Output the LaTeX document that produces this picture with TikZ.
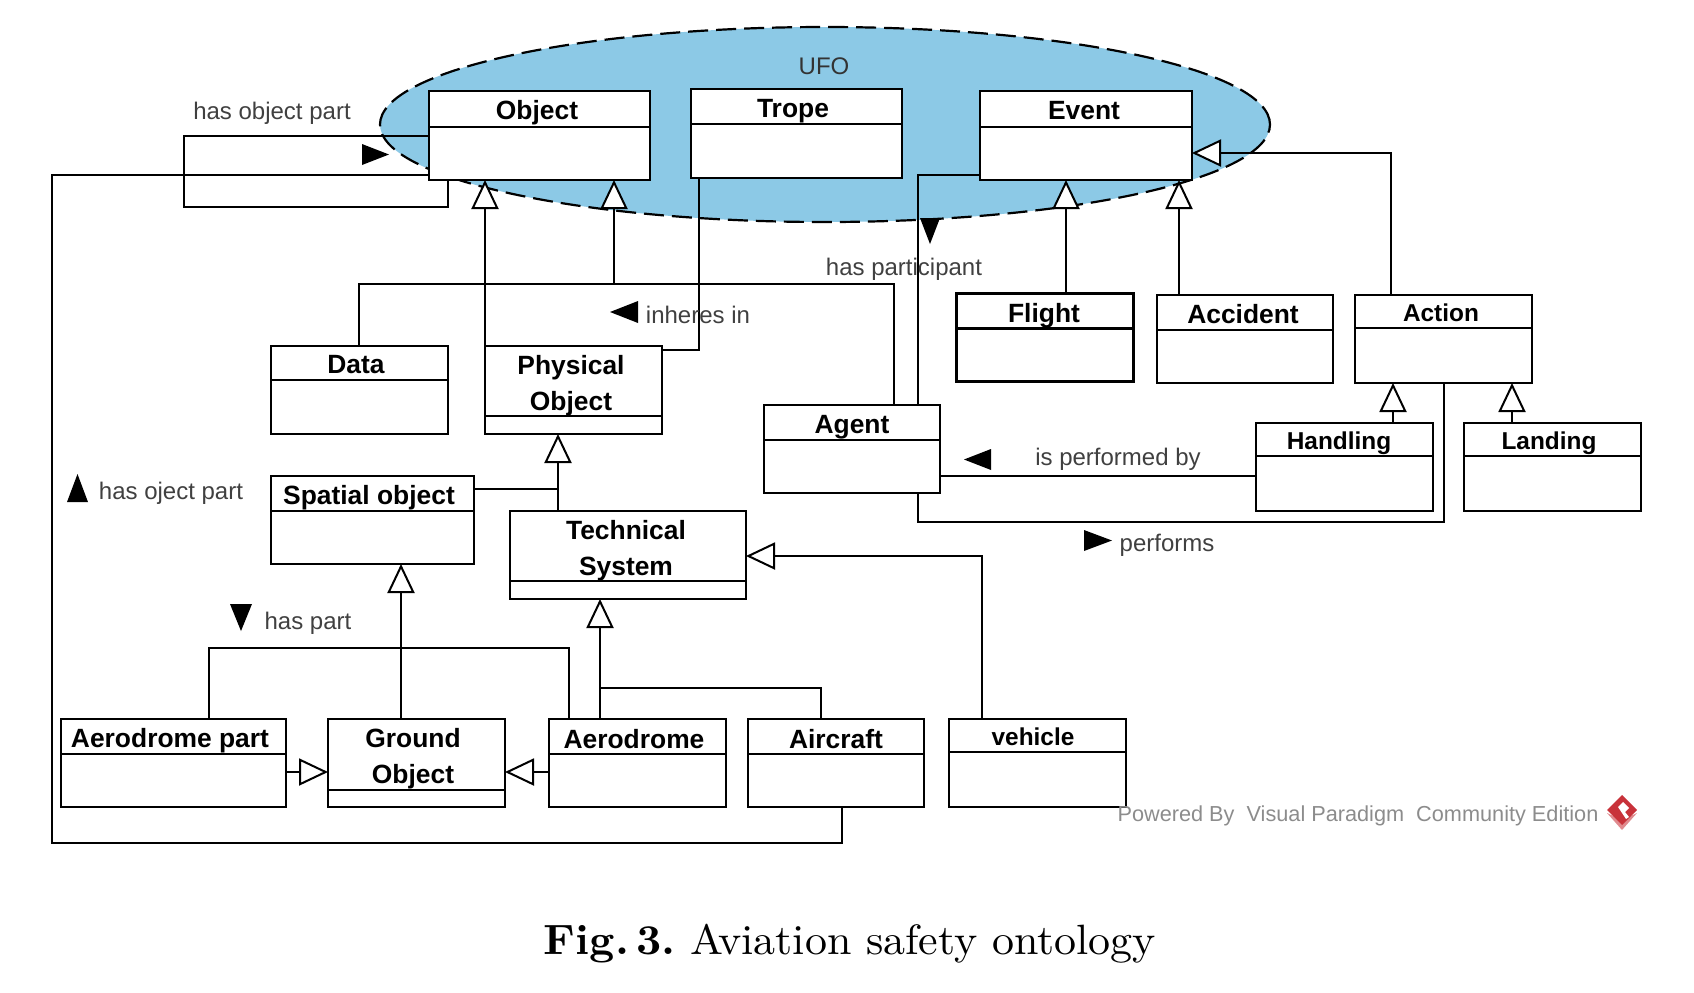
\documentclass[tikz,border=0pt]{standalone}
\usepackage{fontspec}
\setsansfont{Liberation Sans}
\usetikzlibrary{arrows.meta,shapes.geometric}
\definecolor{ufoblue}{HTML}{8CC9E6}
\definecolor{vplogo}{HTML}{C8323A}
\definecolor{vplogolight}{HTML}{E08A8E}
\tikzset{
	classrect/.style={draw,fill=white,rectangle,line width=1.1pt,inner sep=0pt,outer sep=0pt},
	classtitle/.style={font=\sffamily\bfseries\fontsize{13.2}{18}\selectfont,align=center,inner sep=0pt},
	smalltitle/.style={font=\sffamily\bfseries\fontsize{12.2}{18}\selectfont,inner sep=0pt},
	relname/.style={font=\sffamily\fontsize{12}{14}\selectfont,text=black!75,inner sep=0pt},
	relline/.style={line width=1.0pt},
	genline/.style={line width=1.0pt,-{Triangle[fill=white,length=14.5pt,width=13.5pt]}},
	marker/.style={fill=black},
}
\begin{document}
\begin{tikzpicture}[x=0.5pt,y=-0.5pt]
\useasboundingbox (0,0) rectangle (1694,992);
% define class box
\newcommand{\classbox}[6][]{
	% name, left, right, top, bottom
	\pgfmathsetmacro{\boxw}{(#4-#3)*0.5}
	\pgfmathsetmacro{\boxh}{abs(#6-#5)*0.5}
	\node[classrect,minimum width=\boxw pt,minimum height=\boxh pt,#1] (#2) at ({(#3+#4)/2},{(#5+#6)/2}) {};
}
% 1 - UFO ellipse
\node[ellipse,draw,fill=ufoblue,dash pattern=on 10pt off 4pt,line width=1.1pt,minimum width=445pt,minimum height=97.5pt,inner sep=0pt,outer sep=0pt] (ufo) at (825,124.5) {};
\node[font=\sffamily\fontsize{12}{14}\selectfont,text=black!80,inner sep=0pt] (ufolabel) at (824,66) {UFO};
% 2 - class boxes
\classbox{object}{429}{650}{91}{180}
\classbox{trope}{691}{902}{89}{178}
\classbox{event}{980}{1192}{91}{180}
\classbox[line width=1.5pt]{flight}{956}{1133}{293}{381}
\classbox{accident}{1157}{1333}{295}{383}
\classbox{action}{1355}{1532}{295}{383}
\classbox{data}{271}{448}{346}{434}
\classbox{physical}{485}{662}{346}{434}
\classbox{agent}{764}{940}{405}{493}
\classbox{handling}{1256}{1433}{423}{511}
\classbox{landing}{1464}{1641}{423}{511}
\classbox{spatial}{271}{474}{476}{564}
\classbox{technical}{510}{746}{511}{599}
\classbox{aeropart}{61}{286}{719}{807}
\classbox{ground}{328}{505}{719}{807}
\classbox{aerodrome}{549}{726}{719}{807}
\classbox{aircraft}{748}{924}{719}{807}
\classbox{vehicle}{949}{1126}{719}{807}
% dividers
\foreach \name/\ydiv in {object/127,trope/124,event/127,accident/330,action/328,data/380,physical/416,agent/440,handling/456,landing/456,spatial/511,technical/581,aeropart/754,ground/790,aerodrome/754,aircraft/754,vehicle/752}
	\draw[line width=1.1pt] (\name.west |- 0,\ydiv) -- (\name.east |- 0,\ydiv);
\draw[line width=1.5pt] (flight.west |- 0,328) -- (flight.east |- 0,328);
% titles
\foreach \name/\tx/\ty/\ttext in {object/537/113/Object,trope/793/111/Trope,event/1084/111/Event,flight/1044/316/Flight,accident/1243/314/Accident,data/356/365/Data,physical/571/386/{Physical\\Object},agent/852/427/Agent,spatial/369/498/Spatial object,technical/626/551/{Technical\\System},aeropart/170/741/Aerodrome part,ground/413/759/{Ground\\Object},aerodrome/634/739/Aerodrome,aircraft/836/739/Aircraft}
	\node[classtitle] (\name-title) at (\tx,\ty) {\ttext};
\foreach \name/\tx/\ty/\ttext in {action/1441/313/Action,handling/1339/443/Handling,landing/1549/443/Landing,vehicle/1033/737/vehicle}
	\node[smalltitle] (\name-title) at (\tx,\ty) {\ttext};
% 3 - connectors
% has object part loop
\draw[relline] (object.west |- 0,136) -- (184,136) -- (184,207) -- (448,207) -- (448,0 |- object.south);
% long link to aircraft
\draw[relline] (object.west |- 0,175) -- (52,175) -- (52,843) -- (842,843) -- (842,0 |- aircraft.south);
% generalisations up to object
\draw[genline] (485,0 |- physical.north) -- (485,0 |- object.south);
\draw[genline] (359,0 |- data.north) -- (359,284) -- (614,284) -- (614,0 |- object.south);
\coordinate (agentjoin) at (614,284);
\draw[relline] (894,0 |- agent.north) -- (894,284) -- (agentjoin);
% inheres in
\draw[relline] (699,0 |- trope.south) -- (699,350) -- (physical.east |- 0,350);
% has participant and performs
\draw[relline] (event.west |- 0,175) -- (918,175) -- (918,0 |- agent.north);
\draw[relline] (918,0 |- agent.south) -- (918,522) -- (1444,522) -- (1444,0 |- action.south);
% is performed by
\draw[relline] (agent.east |- 0,476) -- (handling.west |- 0,476);
% generalisations of event and action
\draw[genline] (1066,0 |- flight.north) -- (1066,0 |- event.south);
\draw[genline] (1179,0 |- accident.north) -- (1179,0 |- event.south);
\draw[genline] (1391,0 |- action.north) -- (1391,153) -- (event.east |- 0,153);
\draw[genline] (1393,0 |- handling.north) -- (1393,0 |- action.south);
\draw[genline] (1512,0 |- landing.north) -- (1512,0 |- action.south);
% technical system part
\draw[genline] (558,0 |- technical.north) -- (558,0 |- physical.south);
\coordinate (spatialjoin) at (558,489);
\draw[relline] (spatial.east |- 0,489) -- (spatialjoin);
\draw[genline] (600,0 |- aerodrome.north) -- (600,0 |- technical.south);
\coordinate (aircraftjoin) at (600,688);
\draw[relline] (821,0 |- aircraft.north) -- (821,688) -- (aircraftjoin);
\draw[genline] (982,0 |- vehicle.north) -- (982,556) -- (technical.east |- 0,556);
% ground part
\draw[genline] (401,0 |- ground.north) -- (401,0 |- spatial.south);
\draw[relline] (209,0 |- aeropart.north) -- (209,648) -- (569,648) -- (569,0 |- aerodrome.north);
\draw[genline] (aeropart.east |- 0,772) -- (ground.west |- 0,772);
\draw[genline] (aerodrome.west |- 0,772) -- (ground.east |- 0,772);
% 4 - black direction markers
\fill[marker] (362,144) -- (389,154.5) -- (362,165) -- cycle;
\fill[marker] (638,301) -- (610,312) -- (638,323) -- cycle;
\fill[marker] (920,218) -- (940,218) -- (930,244) -- cycle;
\fill[marker] (991,449) -- (964,459.5) -- (991,470) -- cycle;
\fill[marker] (1084,530) -- (1112,540.5) -- (1084,551) -- cycle;
\fill[marker] (67,502) -- (88,502) -- (77.5,474) -- cycle;
\fill[marker] (230,604) -- (252,604) -- (241,631) -- cycle;
% 5 - relation names
\node[relname] (hasobjectpart) at (272,113) {has object part};
\node[relname] (inheresin) at (698,315) {inheres in};
\node[relname] (hasparticipant) at (904,269) {has participant};
\node[relname] (performedby) at (1118,459) {is performed by};
\node[relname] (performs) at (1167,545) {performs};
\node[relname] (hasojectpart) at (171,493) {has oject part};
\node[relname] (haspart) at (308,623) {has part};
% 6 - watermark
\node[font=\sffamily\fontsize{10.85}{13}\selectfont,text=black!45,inner sep=0pt] (poweredby) at (1358,816) {Powered By\ \ Visual Paradigm\ \ Community Edition};
\fill[vplogolight] (1607,813) -- (1622,830) -- (1637,813) -- (1622,820) -- cycle;
\fill[vplogo] (1622,795) -- (1637,810) -- (1622,825) -- (1607,810) -- cycle;
\fill[white] (1618,807) -- (1623,802) -- (1629,808) -- (1625,812) -- (1629,817) -- (1626,819) -- cycle;
% 7 - caption
\node[font=\fontsize{10}{12}\selectfont,xscale=2.2,yscale=2.12,anchor=base,inner sep=0pt] (caption) at (850,954) {\textbf{Fig.\,3.}\kern-1.2pt{} Aviation safety ontology};
\end{tikzpicture}
\end{document}
